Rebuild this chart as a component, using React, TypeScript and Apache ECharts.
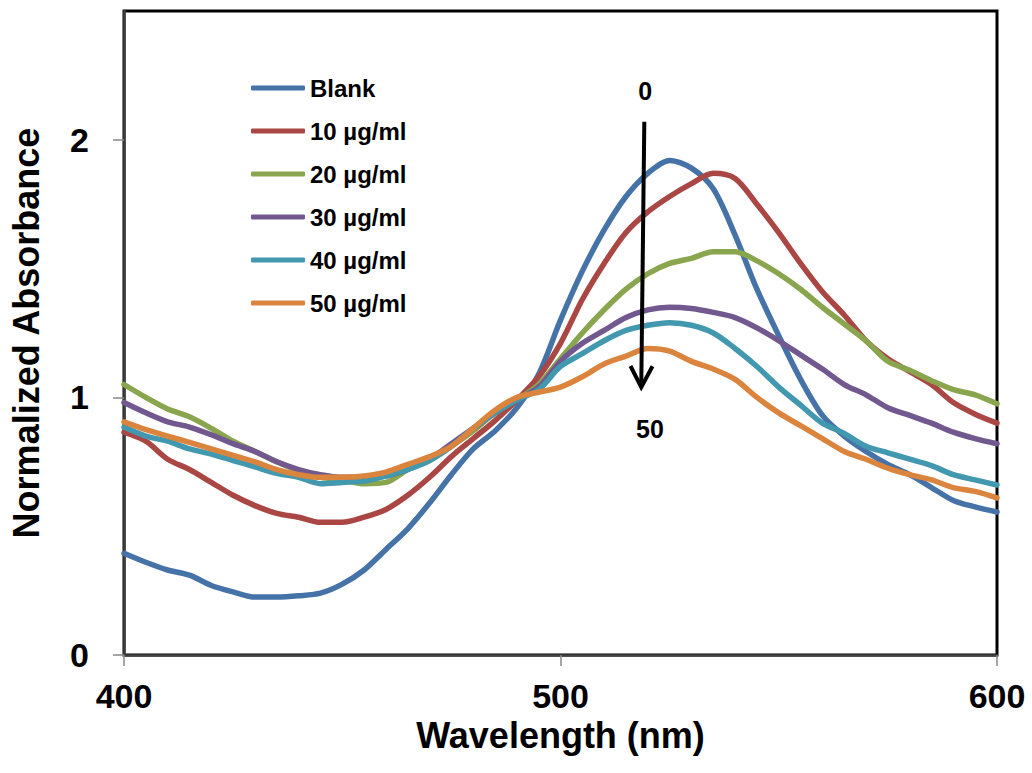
import React, { useEffect, useRef } from "react";
import * as echarts from "echarts";

const wavelengths = [400, 405, 410, 415, 420, 425, 430, 435, 440, 445, 450, 455, 460, 465, 470, 475, 480, 485, 490, 495, 500, 505, 510, 515, 520, 525, 530, 535, 540, 545, 550, 555, 560, 565, 570, 575, 580, 585, 590, 595, 600];

const blank = [0.395, 0.36, 0.33, 0.31, 0.27, 0.245, 0.225, 0.225, 0.23, 0.24, 0.275, 0.33, 0.41, 0.49, 0.59, 0.70, 0.80, 0.87, 0.96, 1.09, 1.30, 1.49, 1.65, 1.78, 1.87, 1.92, 1.89, 1.81, 1.63, 1.42, 1.24, 1.07, 0.93, 0.85, 0.79, 0.74, 0.70, 0.65, 0.60, 0.575, 0.555];
const c10 = [0.865, 0.83, 0.76, 0.72, 0.67, 0.62, 0.58, 0.55, 0.535, 0.515, 0.515, 0.535, 0.565, 0.62, 0.69, 0.77, 0.84, 0.91, 0.99, 1.08, 1.21, 1.38, 1.52, 1.64, 1.72, 1.78, 1.83, 1.87, 1.85, 1.75, 1.64, 1.52, 1.41, 1.32, 1.22, 1.15, 1.10, 1.05, 0.98, 0.935, 0.90];
const c20 = [1.05, 1.00, 0.955, 0.925, 0.88, 0.83, 0.79, 0.75, 0.715, 0.69, 0.68, 0.665, 0.67, 0.72, 0.755, 0.81, 0.87, 0.94, 0.99, 1.05, 1.15, 1.25, 1.34, 1.42, 1.48, 1.52, 1.54, 1.565, 1.565, 1.53, 1.48, 1.42, 1.35, 1.285, 1.22, 1.14, 1.105, 1.065, 1.03, 1.01, 0.975];
const c30 = [0.98, 0.94, 0.905, 0.885, 0.855, 0.82, 0.79, 0.75, 0.72, 0.70, 0.69, 0.69, 0.695, 0.72, 0.76, 0.82, 0.88, 0.94, 0.99, 1.04, 1.14, 1.21, 1.26, 1.31, 1.34, 1.35, 1.345, 1.33, 1.31, 1.27, 1.22, 1.165, 1.11, 1.05, 1.01, 0.96, 0.93, 0.90, 0.865, 0.84, 0.82];
const c40 = [0.885, 0.85, 0.83, 0.80, 0.78, 0.755, 0.73, 0.705, 0.69, 0.665, 0.67, 0.675, 0.695, 0.72, 0.755, 0.81, 0.88, 0.94, 0.99, 1.03, 1.12, 1.17, 1.22, 1.26, 1.28, 1.29, 1.28, 1.25, 1.19, 1.12, 1.04, 0.97, 0.90, 0.86, 0.81, 0.785, 0.76, 0.735, 0.70, 0.68, 0.66];
const c50 = [0.905, 0.875, 0.85, 0.825, 0.80, 0.775, 0.75, 0.72, 0.70, 0.69, 0.69, 0.695, 0.71, 0.74, 0.77, 0.81, 0.88, 0.95, 1.00, 1.02, 1.04, 1.08, 1.13, 1.16, 1.19, 1.18, 1.14, 1.11, 1.07, 1.00, 0.94, 0.89, 0.84, 0.79, 0.76, 0.725, 0.70, 0.68, 0.65, 0.635, 0.61];

const seriesNames = ["Blank", "10 µg/ml", "20 µg/ml", "30 µg/ml", "40 µg/ml", "50 µg/ml"];
const seriesValues = [blank, c10, c20, c30, c40, c50];
const seriesColors = ["#4572A7", "#AA4643", "#89A54E", "#71588F", "#4198AF", "#DB843D"];

const xTicks = [400, 500, 600];
const yTicks = [0, 1, 2];

// annotation arrow (data coordinates)
const arrowStart = [519.2, 2.07];
const arrowEnd = [518.5, 1.04];
const labelTop = { text: "0", at: [519.4, 2.19] };
const labelBottom = { text: "50", at: [520.5, 0.876] };

const FONT = "'Liberation Sans', Arial, sans-serif";

export default function App() {
  const ref = useRef<HTMLDivElement>(null);
  useEffect(() => {
    if (!ref.current) return;
    const chart = echarts.init(ref.current, undefined, { renderer: "svg" });
    chart.setOption({
      animation: false,
      backgroundColor: "#ffffff",
      textStyle: { fontFamily: FONT },
      grid: {
        left: 121,
        right: 35,
        top: 11,
        bottom: 118,
        show: true,
        borderColor: "#000000",
        borderWidth: 3,
        backgroundColor: "transparent",
      },
      legend: {
        orient: "vertical",
        left: 246,
        top: 70,
        itemWidth: 54,
        itemHeight: 5,
        itemGap: 17,
        icon: "roundRect",
        data: seriesNames,
        textStyle: { fontFamily: FONT, fontSize: 24, fontWeight: "bold", color: "#000", lineHeight: 26 },
      },
      xAxis: {
        type: "value",
        min: 400,
        max: 600,
        interval: 100,
        name: "Wavelength (nm)",
        nameLocation: "middle",
        nameGap: 62,
        nameTextStyle: { fontFamily: FONT, fontSize: 36, fontWeight: "bold", color: "#000" },
        axisLine: { show: true, onZero: false, lineStyle: { color: "#404040", width: 2.5 } },
        axisTick: { show: true, inside: false, length: 11, customValues: xTicks, lineStyle: { color: "#888", width: 1.5 } },
        axisLabel: { customValues: xTicks, margin: 24, fontFamily: FONT, fontSize: 34, fontWeight: "bold", color: "#000" },
        splitLine: { show: false },
      },
      yAxis: {
        type: "value",
        min: 0,
        max: 2.5,
        interval: 1,
        name: "Normalized Absorbance",
        nameLocation: "middle",
        nameGap: 80,
        nameTextStyle: { fontFamily: FONT, fontSize: 36, fontWeight: "bold", color: "#000" },
        axisLine: { show: true, onZero: false, lineStyle: { color: "#404040", width: 2.5 } },
        axisTick: { show: true, inside: false, length: 11, customValues: yTicks, lineStyle: { color: "#888", width: 1.5 } },
        axisLabel: { customValues: yTicks, margin: 35, fontFamily: FONT, fontSize: 34, fontWeight: "bold", color: "#000" },
        splitLine: { show: false },
      },
      series: seriesNames.map((name, i) => ({
        name,
        type: "line",
        data: wavelengths.map((w, j) => [w, seriesValues[i][j]]),
        showSymbol: false,
        symbol: "none",
        smooth: 0.3,
        color: seriesColors[i],
        lineStyle: { width: 5.5, color: seriesColors[i], cap: "round", join: "round" },
      })),
    });

    const p1 = chart.convertToPixel({ gridIndex: 0 }, arrowStart) as number[];
    const p2 = chart.convertToPixel({ gridIndex: 0 }, arrowEnd) as number[];
    const t1 = chart.convertToPixel({ gridIndex: 0 }, labelTop.at) as number[];
    const t2 = chart.convertToPixel({ gridIndex: 0 }, labelBottom.at) as number[];
    const dx = p2[0] - p1[0];
    const dy = p2[1] - p1[1];
    const len = Math.sqrt(dx * dx + dy * dy);
    const ux = dx / len, uy = dy / len;
    const px = -uy, py = ux;
    const headLen = 21, headHalf = 11;
    const w1 = [p2[0] - ux * headLen + px * headHalf, p2[1] - uy * headLen + py * headHalf];
    const w2 = [p2[0] - ux * headLen - px * headHalf, p2[1] - uy * headLen - py * headHalf];

    chart.setOption({
      graphic: [
        {
          type: "line",
          shape: { x1: p1[0], y1: p1[1], x2: p2[0], y2: p2[1] },
          style: { stroke: "#000", lineWidth: 4 },
          z: 100,
        },
        {
          type: "polyline",
          shape: { points: [w1, p2, w2] },
          style: { stroke: "#000", lineWidth: 4, fill: "none", lineJoin: "miter" },
          z: 100,
        },
        {
          type: "text",
          x: t1[0],
          y: t1[1],
          style: { text: labelTop.text, font: `bold 25px ${FONT}`, fill: "#000", align: "center", verticalAlign: "middle" },
          z: 100,
        },
        {
          type: "text",
          x: t2[0],
          y: t2[1],
          style: { text: labelBottom.text, font: `bold 25px ${FONT}`, fill: "#000", align: "center", verticalAlign: "middle" },
          z: 100,
        },
      ],
    });

    return () => chart.dispose();
  }, []);

  return <div ref={ref} style={{ position: "fixed", left: 0, top: 0, width: 1032, height: 773 }} />;
}
